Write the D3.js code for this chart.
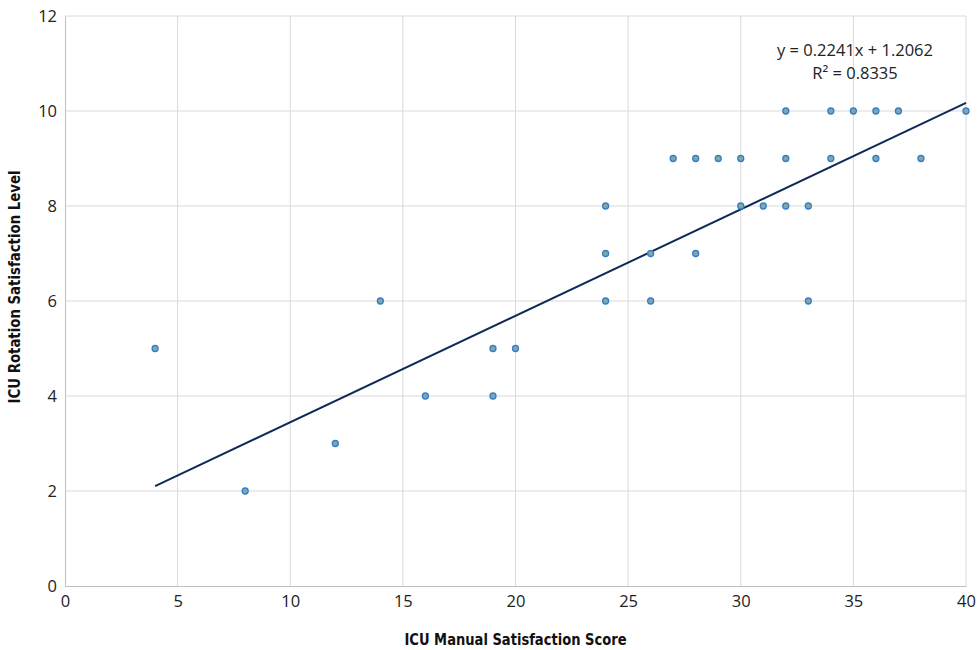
<!DOCTYPE html>
<html>
<head>
<meta charset="utf-8">
<script src="https://cdn.jsdelivr.net/npm/d3@7"></script>
<style>
  body { margin: 0; background: #fff; }
  .tick text { font-family: "Open Sans", "Liberation Sans", sans-serif; font-size: 16.5px; fill: #222; }
  .axis-title { font-family: "DejaVu Sans", sans-serif; font-stretch: condensed; font-weight: bold; font-size: 16.5px; fill: #111; }
</style>
</head>
<body>
<div id="chart"></div>
<script>
// manual satisfaction score (x) vs rotation satisfaction level (y)
const manualScore = [4, 8, 12, 14, 16, 19, 19, 20, 24, 24, 24, 26, 26, 27, 28, 28, 29, 30, 30, 31, 32, 32, 32, 33, 33, 34, 34, 35, 36, 36, 37, 38, 40];
const rotationLevel = [5, 2, 3, 6, 4, 5, 4, 5, 8, 7, 6, 7, 6, 9, 9, 7, 9, 9, 8, 8, 10, 9, 8, 8, 6, 10, 9, 10, 10, 9, 10, 9, 10];
const xTicks = [0, 5, 10, 15, 20, 25, 30, 35, 40];
const yTicks = [0, 2, 4, 6, 8, 10, 12];
const slope = 0.2241, intercept = 1.2062, rSquared = 0.8335;
const trendRange = [4, 40];

const W = 979, H = 650;
const margin = { top: 16, right: 13, bottom: 64, left: 65 };
const width = W - margin.left - margin.right,
  height = H - margin.top - margin.bottom;

const svg = d3.select("#chart").append("svg")
  .attr("width", W).attr("height", H)
  .append("g")
  .attr("transform", "translate(" + margin.left + "," + margin.top + ")");

const x = d3.scaleLinear().domain([0, 40]).range([0, width]);
const y = d3.scaleLinear().domain([0, 12]).range([height, 0]);

// gridlines
svg.append("g").selectAll("line.v").data(xTicks.slice(1)).enter().append("line")
  .attr("x1", d => x(d)).attr("x2", d => x(d))
  .attr("y1", 0).attr("y2", height)
  .attr("stroke", "#d9d9d9").attr("stroke-width", 1);
svg.append("g").selectAll("line.h").data(yTicks.slice(1)).enter().append("line")
  .attr("x1", 0).attr("x2", width)
  .attr("y1", d => y(d)).attr("y2", d => y(d))
  .attr("stroke", "#d9d9d9").attr("stroke-width", 1);

const xAxis = svg.append("g")
  .attr("transform", "translate(0," + height + ")")
  .call(d3.axisBottom(x).tickValues(xTicks).tickSize(0).tickPadding(9));
xAxis.select(".domain").attr("stroke", "#bfbfbf");

const yAxis = svg.append("g")
  .call(d3.axisLeft(y).tickValues(yTicks).tickSize(0).tickPadding(8));
yAxis.select(".domain").attr("stroke", "#bfbfbf");

// trend line
svg.append("line")
  .attr("x1", x(trendRange[0])).attr("y1", y(slope * trendRange[0] + intercept))
  .attr("x2", x(trendRange[1])).attr("y2", y(slope * trendRange[1] + intercept))
  .attr("stroke", "#0e2a56").attr("stroke-width", 2);

// points
svg.append("g").selectAll("circle")
  .data(manualScore.map((d, i) => [d, rotationLevel[i]]))
  .enter().append("circle")
  .attr("cx", d => x(d[0]))
  .attr("cy", d => y(d[1]))
  .attr("r", 3)
  .attr("fill", "#86a6a4")
  .attr("stroke", "#2f7fd0")
  .attr("stroke-width", 1.3);

// equation label
const eq = svg.append("text")
  .attr("text-anchor", "middle")
  .style("font-family", "\"Open Sans\", \"Liberation Sans\", sans-serif")
  .style("font-size", "16.5px")
  .attr("fill", "#222");
eq.append("tspan").attr("x", 790).attr("y", 40).text("y = " + slope + "x + " + intercept);
eq.append("tspan").attr("x", 790).attr("y", 63).text("R² = " + rSquared);

svg.append("text")
  .attr("class", "axis-title")
  .attr("x", width / 2).attr("y", height + 59)
  .attr("text-anchor", "middle")
  .attr("textLength", 222).attr("lengthAdjust", "spacingAndGlyphs")
  .text("ICU Manual Satisfaction Score");

svg.append("text")
  .attr("class", "axis-title")
  .attr("transform", "rotate(-90)")
  .attr("x", -height / 2 + 14).attr("y", -45)
  .attr("text-anchor", "middle")
  .attr("textLength", 233).attr("lengthAdjust", "spacingAndGlyphs")
  .text("ICU Rotation Satisfaction Level");
</script>
</body>
</html>
